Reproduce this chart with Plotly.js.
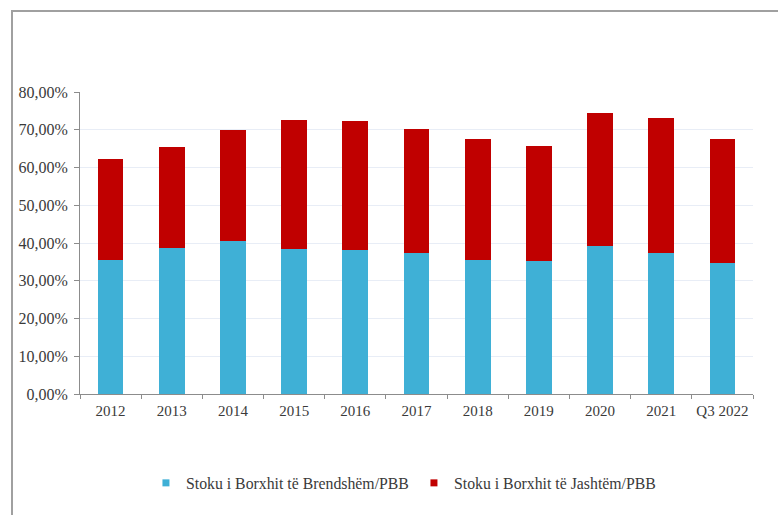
<!DOCTYPE html>
<html>
<head>
<meta charset="utf-8">
<script src="https://cdn.plot.ly/plotly-3.0.1.min.js"></script>
<style>
  html, body { margin: 0; padding: 0; background: #fff; }
  #wrap { position: relative; width: 778px; height: 515px; }
  #frame { position: absolute; left: 11px; top: 10px; right: 0; bottom: 0;
           border-left: 2px solid #a0a0a0; border-top: 2px solid #a0a0a0; pointer-events: none; }
  #chart { position: absolute; left: 0; top: 0; width: 778px; height: 515px; }
</style>
</head>
<body>
<div id="wrap">
  <div id="chart"></div>
  <div id="frame"></div>
</div>
<script>
const categories = ["2012","2013","2014","2015","2016","2017","2018","2019","2020","2021","Q3 2022"];
const domesticDebt = [0.355,0.388,0.404,0.384,0.381,0.373,0.355,0.353,0.392,0.373,0.348];
const totalDebt    = [0.622,0.655,0.699,0.726,0.723,0.702,0.675,0.657,0.744,0.731,0.676];
const externalDebt = totalDebt.map((t,i) => +(t - domesticDebt[i]).toFixed(3));
const yTickVals = [0,0.1,0.2,0.3,0.4,0.5,0.6,0.7,0.8];
const seriesNames = ["Stoku i Borxhit të Brendshëm/PBB","Stoku i Borxhit të Jashtëm/PBB"];
const seriesColors = ["#3fb0d6", "#c00000"];
const SERIF = "Liberation Serif";

const traces = [
  { type: "bar", name: seriesNames[0], x: categories, y: domesticDebt,
    marker: { color: seriesColors[0] }, showlegend: false },
  { type: "bar", name: seriesNames[1], x: categories, y: externalDebt,
    marker: { color: seriesColors[1] }, showlegend: false },
  // legend-only entries (small square keys like the original)
  { type: "scatter", mode: "markers", name: seriesNames[0], x: [null], y: [null],
    marker: { symbol: "square", size: 7, color: seriesColors[0] } },
  { type: "scatter", mode: "markers", name: seriesNames[1], x: [null], y: [null],
    marker: { symbol: "square", size: 7, color: seriesColors[1] } }
];

const layout = {
  width: 778, height: 515,
  barmode: "stack",
  bargap: 0.58,
  separators: ",.",
  paper_bgcolor: "rgba(0,0,0,0)",
  plot_bgcolor: "#ffffff",
  font: { family: SERIF, size: 15.5, color: "#3a3a3a" },
  margin: { l: 80, r: 25, t: 92, b: 121 },
  showlegend: true,
  legend: { orientation: "h", traceorder: "normal", x: 0.098, xanchor: "left", y: -0.295, yanchor: "middle",
            font: { family: SERIF, size: 15.8, color: "#3a3a3a" }, itemwidth: 30, entrywidth: 223 },
  xaxis: {
    type: "category",
    tickangle: 0,
    tickfont: { family: SERIF, size: 15, color: "#3a3a3a" },
    ticklabelstandoff: 3,
    showline: true, linecolor: "#8c8c8c", linewidth: 1,
    ticks: "outside", tickson: "boundaries", ticklen: 4, tickcolor: "#8c8c8c",
    showgrid: false, zeroline: false
  },
  yaxis: {
    range: [0, 0.8], tickvals: yTickVals, tickformat: ".2%",
    tickfont: { family: SERIF, size: 16, color: "#3a3a3a" },
    ticklabelstandoff: 3,
    showline: true, linecolor: "#8c8c8c", linewidth: 1,
    ticks: "outside", ticklen: 5, tickcolor: "#8c8c8c",
    showgrid: true, gridcolor: "#e8edf6", gridwidth: 1, zeroline: false
  }
};

Plotly.newPlot("chart", traces, layout, { displayModeBar: false, staticPlot: true });
</script>
</body>
</html>
